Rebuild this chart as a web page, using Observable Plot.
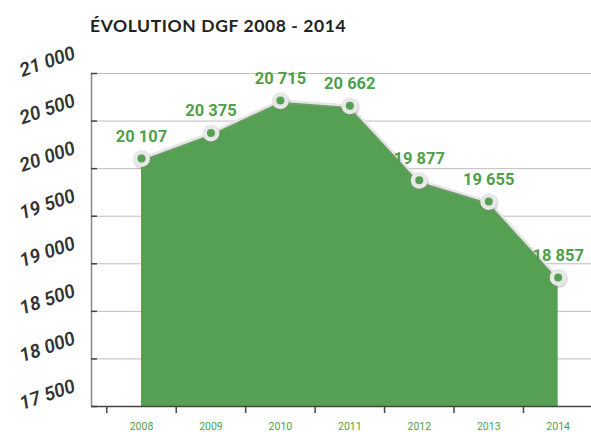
<!DOCTYPE html>
<html>
<head>
<meta charset="utf-8">
<script src="https://cdn.jsdelivr.net/npm/d3@7"></script>
<script src="https://cdn.jsdelivr.net/npm/@observablehq/plot@0.6"></script>
<style>
  html, body { margin: 0; padding: 0; background: #fff; }
  #wrap { position: relative; width: 591px; height: 432px; overflow: hidden; }
  #title { position: absolute; left: 90px; top: 15px; font-family: Lato, "Open Sans", sans-serif; font-weight: 700; font-size: 17.5px; letter-spacing: 0.6px; color: #222; }
</style>
</head>
<body>
<div id="wrap">
  <div id="chart"></div>
  <div id="title">ÉVOLUTION DGF 2008 - 2014</div>
</div>
<script>
const years = [2008, 2009, 2010, 2011, 2012, 2013, 2014];
const values = [20107, 20375, 20715, 20662, 19877, 19655, 18857];
const valueLabels = ["20 107", "20 375", "20 715", "20 662", "19 877", "19 655", "18 857"];
const yTicks = [17500, 18000, 18500, 19000, 19500, 20000, 20500, 21000];
const yTickLabels = ["17 500", "18 000", "18 500", "19 000", "19 500", "20 000", "20 500", "21 000"];
const xBoundaries = [2007.5, 2008.5, 2009.5, 2010.5, 2011.5, 2012.5, 2013.5];

const data = years.map((y, i) => ({year: y, value: values[i], label: valueLabels[i]}));
const tickData = yTicks.map((t, i) => ({v: t, label: yTickLabels[i]}));

const green = "#55a052";
const textGreen = "#4f9f49";
const xDomain = [2007.28, 2014.48];
const yMin = yTicks[0];

const chart = Plot.plot({
  width: 591,
  height: 432,
  marginLeft: 91,
  marginRight: 0,
  marginTop: 73,
  marginBottom: 26,
  x: {domain: xDomain, label: null},
  y: {domain: [yTicks[0], yTicks[yTicks.length - 1]], label: null},
  style: {background: "#fff", overflow: "visible"},
  marks: [
    Plot.ruleY(yTicks, {stroke: "#bdbdbd", strokeWidth: 1}),
    Plot.areaY(data, {x: "year", y1: yMin, y2: "value", fill: green}),
    Plot.line(data, {x: "year", y: "value", stroke: "#9a9a9a", strokeWidth: 3, strokeOpacity: 0.35, dy: 1.5}),
    Plot.line(data, {x: "year", y: "value", stroke: "#e6e6e6", strokeWidth: 2.5}),
    Plot.dot(data, {x: "year", y: "value", r: 9, fill: "#888", fillOpacity: 0.3, dx: 0.8, dy: 1.5}),
    Plot.dot(data, {x: "year", y: "value", r: 8.5, fill: "#e8e8e8"}),
    Plot.dot(data, {x: "year", y: "value", r: 4, fill: green}),
    Plot.text(data, {x: "year", y: "value", text: "label", dy: -22, fill: textGreen, fontSize: 16.5, fontWeight: 700, fontFamily: "Roboto, sans-serif", lineAnchor: "middle"}),
    Plot.ruleX([xDomain[0]], {y1: yTicks[0], y2: yTicks[yTicks.length - 1], stroke: "#888", strokeWidth: 1.5}),
    Plot.axisY(yTicks, {anchor: "left", tickSize: -6, tickFormat: () => "", stroke: "#444", strokeWidth: 1.5, label: null}),
    Plot.ruleY([yMin], {stroke: "#444", strokeWidth: 1.5}),
    Plot.axisX(xBoundaries, {anchor: "bottom", tickSize: 7, tickFormat: () => "", stroke: "#444", strokeWidth: 1.5, label: null}),
    Plot.text(years, {x: d => d, frameAnchor: "bottom", dy: 23, lineAnchor: "bottom", fill: textGreen, fontSize: 10.5, fontFamily: "Roboto, sans-serif", text: d => String(d)}),
    Plot.text(tickData, {y: "v", text: "label", frameAnchor: "left", dx: -17, dy: -21, textAnchor: "end", rotate: -19, fill: "#333", fontSize: 19, fontStyle: "italic", fontWeight: 600, letterSpacing: 1, fontFamily: "Roboto, sans-serif"})
  ]
});
document.getElementById("chart").appendChild(chart);
</script>
</body>
</html>
